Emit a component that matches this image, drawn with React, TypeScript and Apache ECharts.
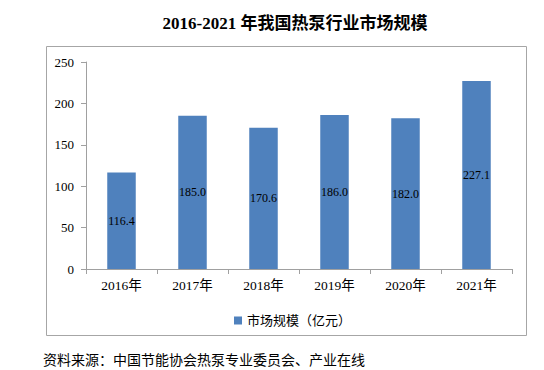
import React, { useEffect, useRef } from "react";
import * as echarts from "echarts";

const categories = ["2016年", "2017年", "2018年", "2019年", "2020年", "2021年"];
const marketSize = [116.4, 185.0, 170.6, 186.0, 182.0, 227.1];
const seriesName = "市场规模（亿元）";
const titleText = "2016-2021 年我国热泵行业市场规模";
const sourceText = "资料来源：中国节能协会热泵专业委员会、产业在线";

const FONT = '"Times New Roman", "Liberation Serif", "Noto Sans CJK SC", serif';

export default function App() {
  const ref = useRef<HTMLDivElement>(null);
  useEffect(() => {
    if (!ref.current) return;
    const chart = echarts.init(ref.current, undefined, { renderer: "svg" });
    chart.setOption({
      animation: false,
      backgroundColor: "#ffffff",
      textStyle: { fontFamily: FONT },
      title: {
        text: titleText,
        left: 290,
        textAlign: "center",
        top: 10,
        textStyle: { fontFamily: FONT, fontSize: 17, fontWeight: "bold", color: "#000" },
      },
      graphic: [
        {
          type: "rect",
          shape: { x: 46.5, y: 46.5, width: 480, height: 289 },
          style: { fill: "none", stroke: "#a6a6a6", lineWidth: 1 },
          silent: true,
        },
        {
          type: "text",
          left: 43,
          top: 353,
          style: { text: sourceText, font: `14px ${FONT}`, fill: "#000" },
        },
      ],
      legend: {
        data: [seriesName],
        left: 229,
        top: 309,
        itemWidth: 8,
        itemHeight: 8,
        itemGap: 4,
        icon: "rect",
        textStyle: { fontFamily: FONT, fontSize: 13, color: "#000" },
      },
      grid: { left: 86, right: 32, top: 62, bottom: 101, containLabel: false },
      xAxis: {
        type: "category",
        data: categories,
        axisLine: { lineStyle: { color: "#a0a0a0" } },
        axisTick: { show: true, alignWithLabel: false, length: 5, lineStyle: { color: "#a0a0a0" } },
        axisLabel: { fontFamily: FONT, fontSize: 13.5, color: "#000", margin: 10 },
      },
      yAxis: {
        type: "value",
        min: 0,
        max: 250,
        interval: 50,
        axisLine: { show: true, lineStyle: { color: "#a0a0a0" } },
        axisTick: { show: true, length: 5, lineStyle: { color: "#a0a0a0" } },
        splitLine: { show: false },
        axisLabel: { fontFamily: FONT, fontSize: 13, color: "#000", margin: 12 },
      },
      series: [
        {
          name: seriesName,
          type: "bar",
          data: marketSize,
          barWidth: 28.5,
          itemStyle: { color: "#4f81bd" },
          label: {
            show: true,
            position: "inside",
            formatter: (p: any) => Number(p.value).toFixed(1),
            fontFamily: FONT,
            fontSize: 12,
            color: "#000",
          },
        },
      ],
    });
    return () => chart.dispose();
  }, []);
  return (
    <div
      ref={ref}
      style={{ position: "fixed", left: 0, top: 0, width: 544, height: 370 }}
    />
  );
}
